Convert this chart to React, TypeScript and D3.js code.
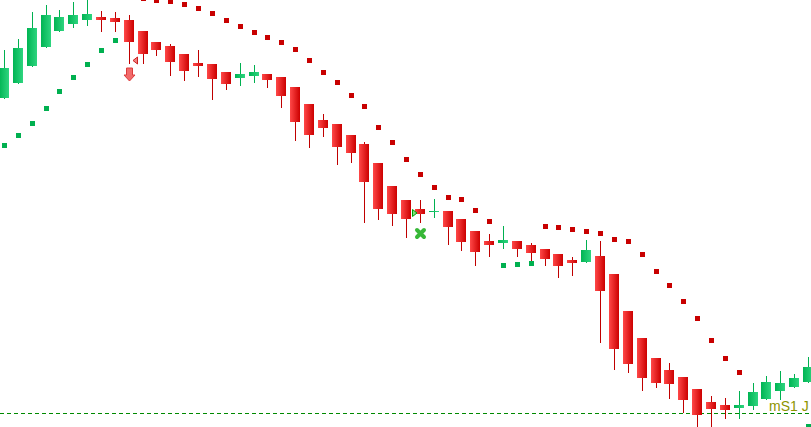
import React, { useEffect, useRef } from 'react';
import * as d3 from 'd3';

// OHLC (one pip per pixel, price 1.1000 at the bottom edge)
const opens = [
  1.1329, 1.1344, 1.1361, 1.138, 1.1396, 1.1403, 1.1407, 1.141, 1.1409, 1.1407,
  1.1396, 1.1385, 1.1381, 1.1373, 1.1364, 1.1363, 1.1355, 1.1349, 1.1351, 1.1353,
  1.135, 1.134, 1.1323, 1.1307, 1.1303, 1.1292, 1.1283, 1.1264, 1.1241, 1.1227,
  1.1218, 1.1215, 1.1216, 1.1208, 1.1196, 1.1186, 1.1184, 1.1186, 1.1182, 1.1178,
  1.1173, 1.1167, 1.1165, 1.1171, 1.1153, 1.1116, 1.1089, 1.1069, 1.1057, 1.105,
  1.1038, 1.1025, 1.1022, 1.1019, 1.1021, 1.1028, 1.1036, 1.104, 1.1045,
];
const highs = [
  1.1377, 1.1388, 1.1415, 1.1422, 1.1417, 1.1425, 1.1431, 1.1416, 1.1415, 1.1412,
  1.1396, 1.1385, 1.1383, 1.1373, 1.1377, 1.1363, 1.1355, 1.1364, 1.1362, 1.1353,
  1.135, 1.134, 1.1323, 1.1313, 1.1303, 1.1292, 1.1285, 1.1264, 1.1241, 1.1227,
  1.1227, 1.1228, 1.1216, 1.1208, 1.1196, 1.1193, 1.1201, 1.1186, 1.1184, 1.1178,
  1.1173, 1.117, 1.1187, 1.1186, 1.1153, 1.1116, 1.1089, 1.1069, 1.1064, 1.105,
  1.1038, 1.1031, 1.1029, 1.1036, 1.1044, 1.1051, 1.1056, 1.1053, 1.107,
];
const lows = [
  1.1328, 1.1343, 1.136, 1.1379, 1.1395, 1.1399, 1.1401, 1.1395, 1.1395, 1.1363,
  1.1363, 1.1371, 1.1351, 1.1346, 1.135, 1.1327, 1.1337, 1.1341, 1.1344, 1.1339,
  1.1319, 1.1286, 1.1279, 1.129, 1.1262, 1.1264, 1.1204, 1.1207, 1.1201, 1.1189,
  1.1204, 1.1209, 1.1182, 1.1176, 1.1161, 1.117, 1.1178, 1.117, 1.1166, 1.1161,
  1.1149, 1.1151, 1.1164, 1.1084, 1.1057, 1.1054, 1.1036, 1.1039, 1.1028, 1.1014,
  1.0995, 1.0997, 1.1008, 1.1008, 1.1017, 1.1027, 1.1027, 1.1039, 1.1044,
];
const closes = [
  1.1359, 1.1379, 1.1399, 1.1412, 1.141, 1.1412, 1.1413, 1.1407, 1.1405, 1.1385,
  1.1373, 1.1377, 1.1365, 1.1356, 1.1361, 1.1348, 1.1343, 1.1353, 1.1355, 1.1347,
  1.1331, 1.1305, 1.1292, 1.1299, 1.128, 1.1274, 1.1245, 1.1218, 1.1213, 1.1208,
  1.1213, 1.1216, 1.12, 1.1185, 1.1175, 1.1182, 1.1187, 1.1178, 1.1174, 1.1168,
  1.1161, 1.1164, 1.1177, 1.1136, 1.1078, 1.1063, 1.1049, 1.1044, 1.1043, 1.1027,
  1.1012, 1.1018, 1.1017, 1.1022, 1.1035, 1.1045, 1.1044, 1.1049, 1.106,
];

// parabolic SAR, one value per bar
const sar = [
  1.12815, 1.12915, 1.13035, 1.13185, 1.13355, 1.13495, 1.13625, 1.13765, 1.13865,
  1.1431, 1.14285, 1.14265, 1.14255, 1.14225, 1.14185, 1.14135, 1.14065, 1.14005,
  1.13945, 1.13895, 1.13845, 1.13775, 1.13665, 1.13545, 1.13445, 1.13315, 1.13205,
  1.12995, 1.12845, 1.12675, 1.12525, 1.12395, 1.12295, 1.12275, 1.12165, 1.12055,
  1.11615, 1.11625, 1.11635,
  1.12005, 1.11995, 1.11975, 1.11955, 1.11935, 1.11875, 1.11855, 1.11725, 1.11555,
  1.11415, 1.11255, 1.11085, 1.10865, 1.10685, 1.10545,
  1.0993, 1.0994, 1.09955, 1.0997, 1.10005,
];

const pivotLevel = 1.10135;
const pivotLabel = 'mS1 J';

// trade markers
const sellArrow = { index: 9, price: 1.1359 };
const sellFlag = { index: 9, price: 1.13665 };
const buyFlag = { index: 30, price: 1.1214 };
const buyCross = { index: 30, price: 1.11935 };

const W = 811;
const H = 427;

const App: React.FC = () => {
  const ref = useRef<SVGSVGElement>(null);

  useEffect(() => {
    if (!ref.current) return;
    const svg = d3.select(ref.current);
    svg.selectAll('*').remove();

    const n = opens.length;
    const x = d3.scaleLinear().domain([0, n - 1]).range([4.5, 808.5]);
    const y = d3.scaleLinear().domain([1.1, 1.1427]).range([H, 0]);

    const defs = svg.append('defs');
    const bear = defs.append('linearGradient').attr('id', 'bear').attr('x1', 0).attr('x2', 1).attr('y1', 0).attr('y2', 0);
    bear.append('stop').attr('offset', '0%').attr('stop-color', '#ff4848');
    bear.append('stop').attr('offset', '100%').attr('stop-color', '#cc0000');
    const bull = defs.append('linearGradient').attr('id', 'bull').attr('x1', 0).attr('x2', 1).attr('y1', 0).attr('y2', 0);
    bull.append('stop').attr('offset', '0%').attr('stop-color', '#00b453');
    bull.append('stop').attr('offset', '100%').attr('stop-color', '#2ed57f');

    // pivot line + label
    const py = Math.floor(y(pivotLevel)) + 0.5;
    svg.append('line')
      .attr('x1', 0).attr('x2', W)
      .attr('y1', py).attr('y2', py)
      .attr('stroke', '#008a00')
      .attr('stroke-dasharray', '4,3')
      .attr('shape-rendering', 'crispEdges');
    svg.append('text')
      .attr('x', 769).attr('y', py - 3)
      .attr('font-family', '"Liberation Sans", Arial, sans-serif')
      .attr('font-size', 14)
      .attr('fill', '#8c9400')
      .text(pivotLabel);

    const g = svg.append('g').attr('shape-rendering', 'crispEdges');

    d3.range(n).forEach((i) => {
      const cx = Math.floor(x(i));
      const up = closes[i] >= opens[i];
      const hy = Math.round(y(highs[i]));
      const ly = Math.round(y(lows[i]));
      g.append('rect')
        .attr('x', cx).attr('y', hy)
        .attr('width', 1).attr('height', Math.max(1, ly - hy))
        .attr('fill', up ? '#00b050' : '#c00000');
      const top = Math.round(y(Math.max(opens[i], closes[i])));
      const bot = Math.round(y(Math.min(opens[i], closes[i])));
      g.append('rect')
        .attr('x', cx - 5).attr('y', top)
        .attr('width', 10).attr('height', Math.max(1, bot - top))
        .attr('fill', up ? 'url(#bull)' : 'url(#bear)');
    });

    // SAR dots
    d3.range(n).forEach((i) => {
      const cx = Math.floor(x(i));
      const above = sar[i] > highs[i];
      g.append('rect')
        .attr('x', cx - 2)
        .attr('y', Math.round(y(sar[i]) - 2.5))
        .attr('width', 5).attr('height', 5)
        .attr('fill', above ? '#c80000' : '#00b050');
    });

    // sell arrow
    {
      const c = Math.floor(x(sellArrow.index)) + 0.5;
      const t = Math.round(y(sellArrow.price));
      const p = d3.path();
      p.moveTo(c - 3, t);
      p.lineTo(c + 3, t);
      p.lineTo(c + 3, t + 7);
      p.lineTo(c + 5.5, t + 7);
      p.lineTo(c, t + 13);
      p.lineTo(c - 5.5, t + 7);
      p.lineTo(c - 3, t + 7);
      p.closePath();
      svg.append('path').attr('d', p.toString())
        .attr('fill', '#f26a6a').attr('stroke', '#dc3c3c').attr('stroke-width', 1);
    }
    // sell flag
    {
      const c = Math.floor(x(sellFlag.index));
      const yc = y(sellFlag.price);
      svg.append('path')
        .attr('d', `M${c + 8.5},${yc - 3.5}L${c + 8.5},${yc + 3.5}L${c + 4},${yc}Z`)
        .attr('fill', '#f08080').attr('stroke', '#cc2020');
    }
    // buy flag
    {
      const c = Math.floor(x(buyFlag.index));
      const yc = y(buyFlag.price);
      svg.append('path')
        .attr('d', `M${c - 7.5},${yc - 3.5}L${c - 7.5},${yc + 3.5}L${c - 3},${yc}Z`)
        .attr('fill', '#7de07d').attr('stroke', '#00a000');
    }
    // buy cross
    {
      const c = Math.floor(x(buyCross.index)) + 0.5;
      const yc = y(buyCross.price);
      const d = 3.5;
      svg.append('path')
        .attr('d', `M${c - d},${yc - d}L${c + d},${yc + d}M${c + d},${yc - d}L${c - d},${yc + d}`)
        .attr('stroke', '#38b838').attr('stroke-width', 4).attr('stroke-linecap', 'round');
    }
  }, []);

  return (
    <svg
      ref={ref}
      width={W}
      height={H}
      style={{ position: 'absolute', left: 0, top: 0, background: '#fff' }}
    />
  );
};

export default App;
